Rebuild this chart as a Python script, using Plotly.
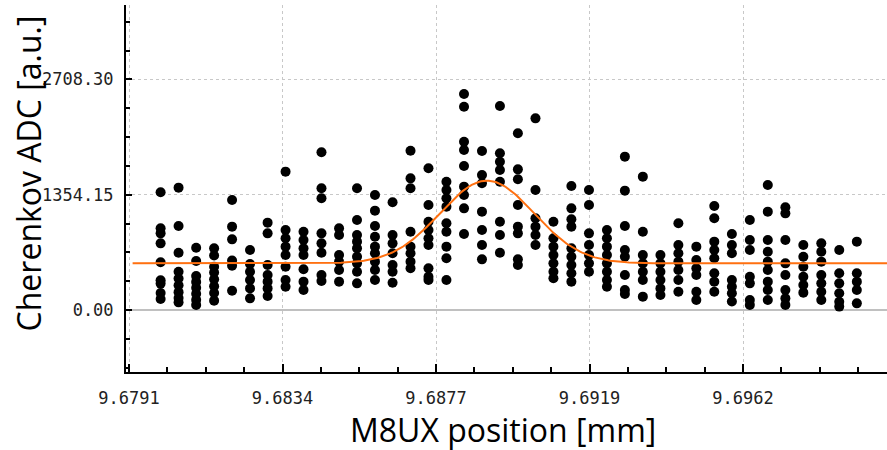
import numpy as np
import plotly.graph_objects as go

# ---- data ----
x_positions = [9.67998, 9.68048, 9.68097, 9.68147, 9.68197, 9.68247, 9.68296, 9.68346,
               9.68396, 9.68446, 9.68495, 9.68545, 9.68595, 9.68644, 9.68694, 9.68744,
               9.68794, 9.68843, 9.68893, 9.68943, 9.68993, 9.69042, 9.69092, 9.69142,
               9.69191, 9.69241, 9.69291, 9.69341, 9.69390, 9.69440, 9.69490, 9.69540,
               9.69589, 9.69639, 9.69689, 9.69738, 9.69788, 9.69838, 9.69888, 9.69937]

adc_by_step = [
    [1382, 960, 900, 783, 560, 350, 310, 200, 130],
    [1437, 987, 673, 450, 370, 290, 210, 140, 90],
    [732, 575, 400, 330, 260, 190, 120, 60],
    [724, 640, 509, 440, 360, 280, 200, 110],
    [1292, 979, 830, 580, 520, 227],
    [705, 540, 450, 352, 254, 137],
    [1026, 900, 529, 411, 333, 254, 164],
    [1625, 940, 842, 744, 646, 509, 352, 274],
    [920, 822, 724, 646, 478, 333, 235],
    [1852, 1429, 1312, 900, 783, 673, 411, 341],
    [959, 881, 646, 568, 470, 333],
    [1429, 1057, 881, 803, 724, 626, 548, 450, 313],
    [1351, 1167, 987, 861, 744, 666, 568, 470, 352],
    [1265, 881, 783, 666, 529, 450, 321],
    [1871, 1546, 1429, 920, 744, 666, 568, 490],
    [1664, 1233, 1037, 940, 842, 763, 489, 391, 352],
    [1507, 1409, 1312, 1214, 1018, 920, 744, 607, 352],
    [2537, 2388, 1977, 1879, 1691, 1449, 1351, 1194, 893],
    [1867, 1586, 1488, 1155, 940, 763, 595],
    [2396, 1840, 1742, 1644, 1507, 1037, 881, 673],
    [2075, 1652, 1535, 1233, 979, 900, 595, 529],
    [2251, 1409, 1077, 979, 881, 763],
    [1037, 842, 744, 646, 548, 450, 372],
    [1456, 1194, 1065, 979, 724, 626, 529, 431, 333],
    [1409, 1233, 900, 763, 646, 548, 450],
    [940, 842, 744, 646, 548, 450, 352, 274],
    [1801, 1402, 987, 705, 626, 411, 235, 188],
    [1566, 920, 646, 548, 450, 352, 157],
    [646, 548, 450, 352, 254, 176],
    [1018, 763, 666, 568, 470, 352, 215],
    [744, 587, 489, 411, 215, 117],
    [1221, 1077, 803, 705, 607, 431, 333, 215],
    [893, 763, 666, 352, 274, 196, 100],
    [1057, 822, 705, 391, 313, 117, 60],
    [1468, 1155, 822, 685, 568, 470, 333, 235, 117],
    [1206, 1135, 822, 548, 411, 235, 137, 60],
    [763, 626, 509, 391, 294, 204],
    [783, 685, 568, 411, 313, 215, 117],
    [705, 431, 313, 196, 98, 40],
    [803, 431, 333, 235, 78],
]

# Gaussian fit parameters (offset, amplitude, centre, sigma)
fit_offset = 548.0
fit_amplitude = 971.0
fit_center = 9.68907
fit_sigma = 0.00131

x_tick_values = [9.67910, 9.683375, 9.68765, 9.691925, 9.69620]
x_tick_labels = ["9.6791", "9.6834", "9.6877", "9.6919", "9.6962"]
y_tick_step = 1354.15

# ---- build figure ----
xs, ys = [], []
for xv, vals in zip(x_positions, adc_by_step):
    for v in vals:
        xs.append(xv)
        ys.append(v)

x_fit = np.linspace(9.67920, 9.70025, 400)
y_fit = fit_offset + fit_amplitude * np.exp(-0.5 * ((x_fit - fit_center) / fit_sigma) ** 2)

fig = go.Figure()
fig.add_trace(go.Scatter(x=xs, y=ys, mode="markers",
                         marker=dict(color="black", size=10, line=dict(width=0)),
                         showlegend=False))
fig.add_trace(go.Scatter(x=x_fit, y=y_fit, mode="lines",
                         line=dict(color="#ff7010", width=2), showlegend=False))

tick_font = dict(family="DejaVu Sans Mono", size=17, color="#222222")
grid_col = "#c8c8c8"

fig.update_layout(
    template="none",
    width=887, height=450,
    margin=dict(l=126, r=0, t=5, b=78, autoexpand=False),
    plot_bgcolor="white", paper_bgcolor="white",
    xaxis=dict(
        range=[9.679016, 9.700210], automargin=False,
        tickmode="array", tickvals=x_tick_values, ticktext=x_tick_labels,
        ticks="inside", ticklen=8, tickwidth=1.5, tickcolor="black",
        showline=True, linecolor="black", linewidth=2, mirror=False,
        showgrid=True, gridcolor=grid_col, griddash="dot", gridwidth=1,
        zeroline=False, tickfont=tick_font, ticklabelstandoff=10,
        minor=dict(tickmode="linear", tick0=9.67910, dtick=0.00106875,
                   ticks="inside", ticklen=5, tickwidth=1.5, tickcolor="black",
                   showgrid=False),
    ),
    yaxis=dict(
        range=[-728, 3582], automargin=False,
        tickmode="linear", tick0=0, dtick=y_tick_step, tickformat=".2f",
        ticks="inside", ticklen=6, tickwidth=1.5, tickcolor="black",
        showline=True, linecolor="black", linewidth=2, mirror=False,
        showgrid=True, gridcolor=grid_col, griddash="dot", gridwidth=1,
        zeroline=True, zerolinecolor="#c0c0c0", zerolinewidth=2,
        tickfont=tick_font, ticklabelstandoff=7,
        minor=dict(tickmode="linear", tick0=0, dtick=y_tick_step / 4,
                   ticks="inside", ticklen=4, tickwidth=1.5, tickcolor="black",
                   showgrid=False),
    ),
    annotations=[
        dict(text="M8UX position [mm]", xref="paper", yref="paper",
             x=0.496, y=-0.158, xanchor="center", yanchor="middle", showarrow=False,
             font=dict(family="Open Sans", size=32, color="black")),
        dict(text="Cherenkov ADC [a.u.]", xref="paper", yref="paper",
             x=-0.128, y=0.54, xanchor="center", yanchor="middle", showarrow=False,
             textangle=-90,
             font=dict(family="Open Sans", size=32, color="black")),
    ],
)

fig.write_html("out.html",
               config={"displayModeBar": False},
               post_script="document.body.style.margin='0px';document.body.style.overflow='hidden';")
